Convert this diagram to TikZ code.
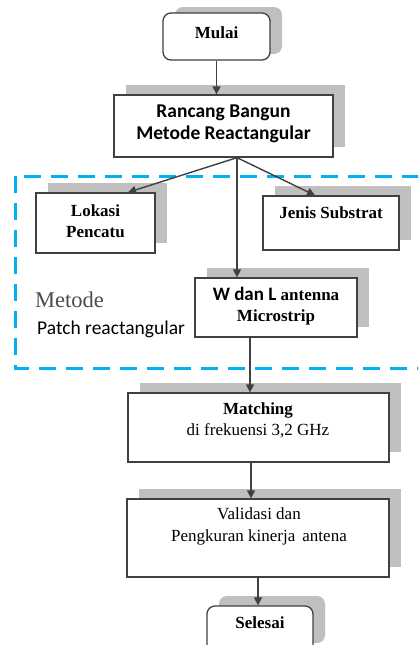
\documentclass[tikz,border=0pt]{standalone}
\usepackage{fontspec}
\setmainfont{Liberation Serif}
\newfontfamily\calibri{Carlito}
\usetikzlibrary{arrows.meta,calc,shadows}

\definecolor{biru}{RGB}{0,176,240}
\definecolor{bayang}{RGB}{191,191,191}
\definecolor{garis}{RGB}{64,64,64}

\tikzset{
  kotak/.style={draw=garis, line width=1.3pt, fill=white,
    drop shadow={shadow xshift=12pt, shadow yshift=10pt, fill=bayang, opacity=1}},
  bulat/.style={kotak, rounded corners=8pt},
  teks/.style={align=center, inner sep=0pt, font=\fontsize{17}{21.5}\selectfont},
  panah/.style={draw=garis, line width=1.4pt, -{Triangle[width=8pt,length=8pt]}},
}

\begin{document}
\begin{tikzpicture}[x=1pt,y=-1pt]
  \useasboundingbox (0,0) rectangle (418,645);
  \clip (0,0) rectangle (418,645);
  % daerah metode
  \draw[biru, line width=3pt, dash pattern=on 17pt off 10pt] (15,176) rectangle (430,368);
  \node[anchor=base west, inner sep=0pt, text=black!70, font=\fontsize{22.5}{26}\selectfont] (metode) at (35,307) {Metode};
  \node[anchor=base west, inner sep=0pt, font=\calibri\fontsize{19.5}{23}\selectfont] (patch) at (37,334) {Patch reactangular};

  % kotak
  \node[draw=garis, line width=1.3pt, fill=white, rounded corners=8pt,
    drop shadow={shadow xshift=12pt, shadow yshift=6pt, fill=bayang, opacity=1},
    minimum width=107pt, minimum height=47pt] (mulai) at (216.5,36.5) {};
  \node[kotak, minimum width=219pt, minimum height=62pt] (rancang) at (223.5,126) {};
  \node[kotak, minimum width=119pt, minimum height=60pt] (lokasi) at (95.5,223) {};
  \node[kotak, minimum width=136pt, minimum height=54pt] (jenis) at (331,223) {};
  \node[kotak, minimum width=162pt, minimum height=59pt] (wdanl) at (276,307.5) {};
  \node[kotak, minimum width=261pt, minimum height=69pt] (matching) at (258.5,427.5) {};
  \node[kotak, minimum width=262pt, minimum height=78pt] (validasi) at (258,538) {};
  \node[bulat, minimum width=106pt, minimum height=47pt] (selesai) at (260,629.5) {};

  % tulisan
  \node[teks] (mulai-t) at (216.5,33) {\textbf{Mulai}};
  \node[teks, font=\calibri\bfseries\fontsize{19.5}{22}\selectfont] (rancang-t) at (223.5,124) {Rancang Bangun\\Metode Reactangular};
  \node[teks] (lokasi-t) at (95.5,221) {\textbf{Lokasi}\\\textbf{Pencatu}};
  \node[teks] (jenis-t) at (331,213) {\textbf{Jenis Substrat}};
  \node[teks] (wdanl-t) at (276,306) {\textbf{{\calibri\fontsize{19}{22}\selectfont W dan L} antenna}\\\textbf{Microstrip}};
  \node[teks] (matching-t) at (258,420.5) {\textbf{Matching}\\di frekuensi 3,2 GHz};
  \node[teks] (validasi-t) at (259,526.5) {Validasi dan\\Pengkuran kinerja\, antena};
  \node[teks] (selesai-t) at (260,623) {\textbf{Selesai}};

  % panah
  \draw[panah] (mulai.south) -- (mulai.south |- rancang.north);
  \coordinate (cabang) at ($(rancang.south)+(13.5,0)$);
  \draw[panah] (cabang) -- ($(lokasi.north)+(32.5,0)$);
  \draw[panah] (cabang) -- ($(jenis.north)+(-16,0)$);
  \draw[panah] (cabang) -- (cabang |- wdanl.north);
  \coordinate (turun) at ($(wdanl.south)+(-26,0)$);
  \draw[panah] (turun) -- (turun |- matching.north);
  \coordinate (turun2) at ($(matching.south)+(-7.5,0)$);
  \draw[panah] (turun2) -- (turun2 |- validasi.north);
  \draw[panah] (validasi.south) -- (validasi.south |- selesai.north);
\end{tikzpicture}
\end{document}
